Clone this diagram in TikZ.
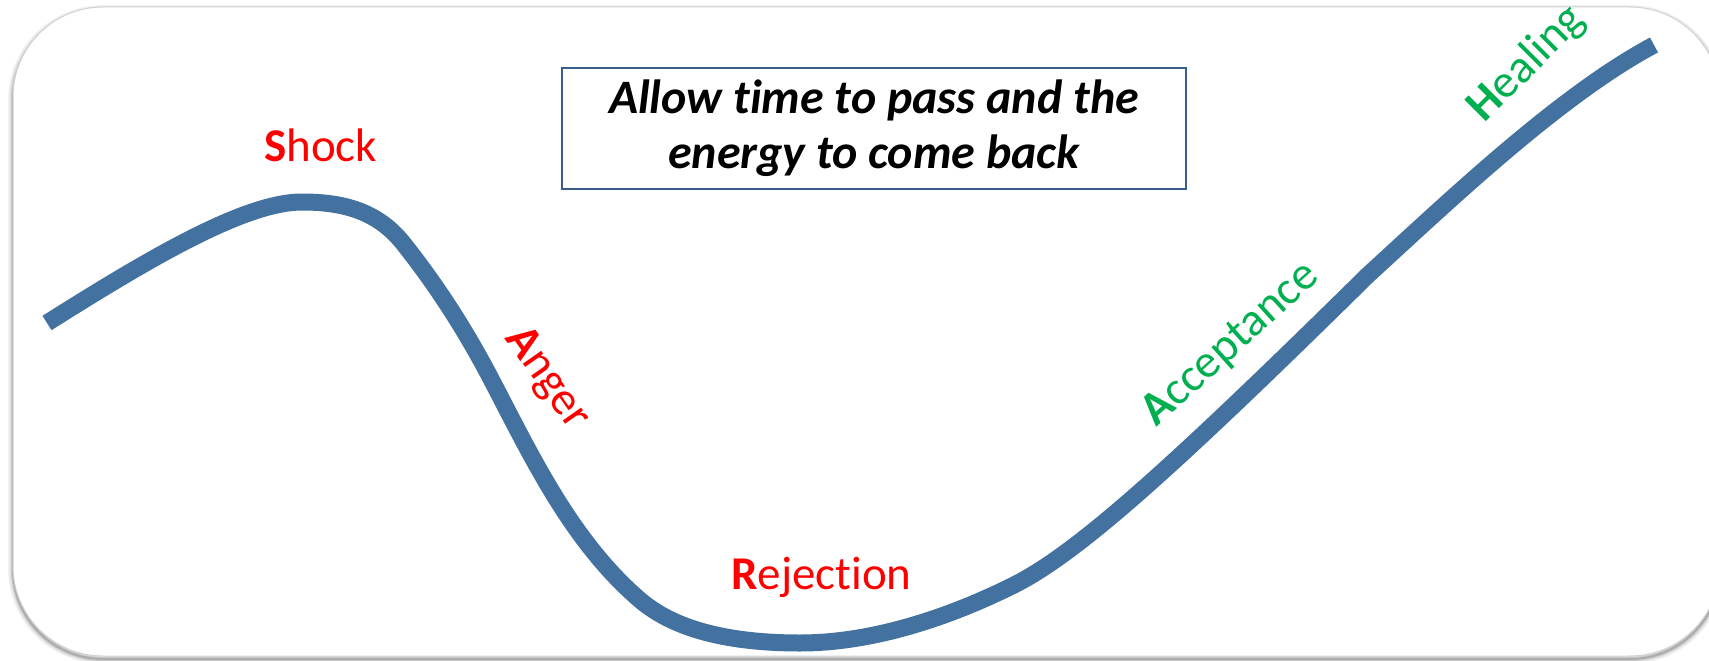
\documentclass[tikz,border=0pt]{standalone}
\usepackage{fontspec}
\setmainfont{Carlito}[Ligatures={NoCommon,NoContextual}]
\newcommand{\tisep}{t\kern0pt i}
\definecolor{curveblue}{RGB}{68,114,160}
\definecolor{boxborder}{RGB}{56,93,138}
\definecolor{lblred}{RGB}{255,0,0}
\definecolor{lblgreen}{RGB}{0,176,80}
\begin{document}
\begin{tikzpicture}[x=1pt,y=-1pt,
  lbl/.style={inner sep=0pt,font=\fontsize{47}{54}\selectfont},
  redlbl/.style={lbl,text=lblred},
  greenlbl/.style={lbl,text=lblgreen},
  curvestyle/.style={draw=curveblue,line width=17pt,line cap=butt,line join=round},
  msgbox/.style={draw=boxborder,line width=2pt,fill=white,minimum width=624pt,minimum height=121pt,align=center,inner sep=0pt,font=\fontsize{48}{55}\selectfont\bfseries\itshape}
]
\useasboundingbox (0,0) rectangle (1709,661);
\fill[white] (0,0) rectangle (1709,661);
% frame shadow
\foreach \w/\o in {10/0.05,7/0.07,4/0.10,2/0.14}{
  \draw[black,opacity=\o,line width=\w pt,rounded corners=90pt] (13,10) rectangle (1720,659);
}
\fill[white,rounded corners=90pt] (13,7) rectangle (1720,656);
\draw[gray!35,line width=1pt,rounded corners=90pt] (13,7) rectangle (1720,656);
% curve
\draw[curvestyle] (47,323)
  .. controls (150,258) and (245,202) .. (302,202)
  .. controls (345,202) and (378,212) .. (403,243)
  .. controls (430,277) and (460,320) .. (490,377)
  .. controls (530,453) and (570,540) .. (640,600)
  .. controls (675,630) and (730,643) .. (800,643)
  .. controls (880,643) and (960,612) .. (1014,585)
  .. controls (1080,552) and (1180,460) .. (1368,275)
  .. controls (1450,200) and (1560,95) .. (1654,45);
% message box
\node[msgbox] (msg) at (874,128.5) {Allow \tisep me to pass and the\\energy to come back};
% labels
\node[redlbl,anchor=base west] (shock) at (264,161) {\textbf{S}hock};
\node[redlbl,rotate=-55] (anger) at (547,379) {\textbf{A}nger};
\node[redlbl,anchor=base west] (rejection) at (731,589) {\textbf{R}ejec\tisep on};
\node[greenlbl,rotate=42] (acceptance) at (1231,345) {\textbf{A}cceptance};
\node[greenlbl,rotate=45] (healing) at (1527,64) {\textbf{H}ealing};
\end{tikzpicture}
\end{document}
